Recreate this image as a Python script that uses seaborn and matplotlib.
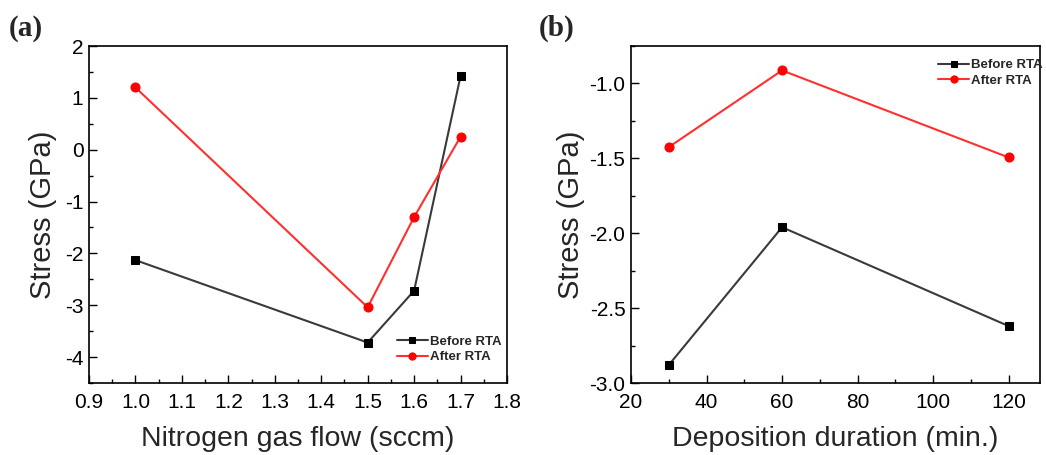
import matplotlib
matplotlib.use("Agg")
import matplotlib.pyplot as plt
from matplotlib.ticker import MultipleLocator
import seaborn as sns
import pandas as pd

# Panel (a): stress vs nitrogen gas flow
flow_sccm = [1.0, 1.5, 1.6, 1.7]
flow_before = [-2.13, -3.72, -2.72, 1.42]
flow_after = [1.20, -3.04, -1.30, 0.25]

# Panel (b): stress vs deposition duration
duration_min = [30, 60, 120]
dur_before = [-2.88, -1.96, -2.62]
dur_after = [-1.425, -0.913, -1.494]

series_names = ["Before RTA", "After RTA"]

sns.set_theme(style="ticks")
plt.rcParams["font.family"] = ["Liberation Sans", "DejaVu Sans"]

W, H = 1046, 455
fig = plt.figure(figsize=(W / 100, H / 100), dpi=100)


def frame(x0, x1, y0, y1):
    return [x0 / W, (H - y1) / H, (x1 - x0) / W, (y1 - y0) / H]


ax_a = fig.add_axes(frame(89, 507, 46, 383))
ax_b = fig.add_axes(frame(631, 1040, 46, 383))

palette = {"Before RTA": "#000000", "After RTA": "#ff0000"}
markers = {"Before RTA": "s", "After RTA": "o"}
marker_sizes = {"Before RTA": 6.0, "After RTA": 6.5}
line_colors = {"Before RTA": "#3a3a3a", "After RTA": "#ff3030"}


def long_form(x, before, after):
    return pd.DataFrame({
        "x": list(x) + list(x),
        "y": list(before) + list(after),
        "Condition": [series_names[0]] * len(x) + [series_names[1]] * len(x),
    })


def draw(ax, df):
    sns.lineplot(data=df, x="x", y="y", hue="Condition", style="Condition",
                 markers=markers, dashes=False, palette=palette,
                 linewidth=1.5, ax=ax, legend=False, sort=False)
    # grey/red connecting lines with solid markers
    for line, name in zip(ax.get_lines(), series_names):
        line.set_color(line_colors[name])
        line.set_markersize(marker_sizes[name])
        line.set_markerfacecolor(palette[name])
        line.set_markeredgecolor(palette[name])


draw(ax_a, long_form(flow_sccm, flow_before, flow_after))
draw(ax_b, long_form(duration_min, dur_before, dur_after))

tick_fs = 15
xlabel_fs = 20.5
ylabel_fs = 21

ax_a.set_xlim(0.9, 1.8)
ax_a.set_ylim(-4.5, 2)
ax_a.xaxis.set_minor_locator(MultipleLocator(0.05))
ax_a.yaxis.set_minor_locator(MultipleLocator(0.5))
ax_a.set_xticks([0.9, 1.0, 1.1, 1.2, 1.3, 1.4, 1.5, 1.6, 1.7, 1.8])
ax_a.set_xticklabels(["0.9", "1.0", "1.1", "1.2", "1.3", "1.4", "1.5", "1.6", "1.7", "1.8"])
ax_a.set_yticks([-4, -3, -2, -1, 0, 1, 2])
ax_a.set_yticklabels(["-4", "-3", "-2", "-1", "0", "1", "2"])
ax_a.set_xlabel("Nitrogen gas flow (sccm)", fontsize=xlabel_fs, labelpad=10)
ax_a.set_ylabel("Stress (GPa)", fontsize=ylabel_fs, labelpad=6)

ax_b.set_xlim(20, 128.3)
ax_b.set_ylim(-3.0, -0.75)
ax_b.set_xticks([20, 40, 60, 80, 100, 120])
ax_b.xaxis.set_minor_locator(MultipleLocator(10))
ax_b.set_yticks([-3.0, -2.5, -2.0, -1.5, -1.0])
ax_b.set_yticklabels(["-3.0", "-2.5", "-2.0", "-1.5", "-1.0"])
ax_b.yaxis.set_minor_locator(MultipleLocator(0.25))
ax_b.set_xlabel("Deposition duration (min.)", fontsize=xlabel_fs, labelpad=10)
ax_b.set_ylabel("Stress (GPa)", fontsize=ylabel_fs, labelpad=3)

for ax in (ax_a, ax_b):
    ax.tick_params(axis="both", which="major", direction="in", length=6,
                   width=1, labelsize=tick_fs, colors="black")
    ax.tick_params(axis="x", which="major", pad=7)
    ax.tick_params(axis="y", which="major", pad=4)
    ax.tick_params(axis="both", which="minor", direction="in", length=3,
                   width=1, colors="black")
    for sp in ax.spines.values():
        sp.set_linewidth(1.2)
        sp.set_color("black")
        sp.set_visible(True)

# Legends built from the plotted lines
leg_font = {"size": 9.5, "weight": "bold"}
leg_kw = dict(frameon=False, prop=leg_font, handlelength=2.4,
              handletextpad=0.1, labelspacing=0.25, markerscale=0.8,
              borderaxespad=0.2)
ax_a.legend(ax_a.get_lines()[:2], series_names, loc="lower right",
            bbox_to_anchor=(1.005, 0.035), **leg_kw)
ax_b.legend(ax_b.get_lines()[:2], series_names, loc="upper right",
            bbox_to_anchor=(1.025, 0.985), **leg_kw)

# Panel tags
fig.text(9 / W, 1 - 28 / H, "(a)", fontsize=21, fontweight="bold",
         family="Liberation Serif", va="center", ha="left")
fig.text(539 / W, 1 - 28 / H, "(b)", fontsize=21, fontweight="bold",
         family="Liberation Serif", va="center", ha="left")

fig.savefig("out.png", dpi=100)
